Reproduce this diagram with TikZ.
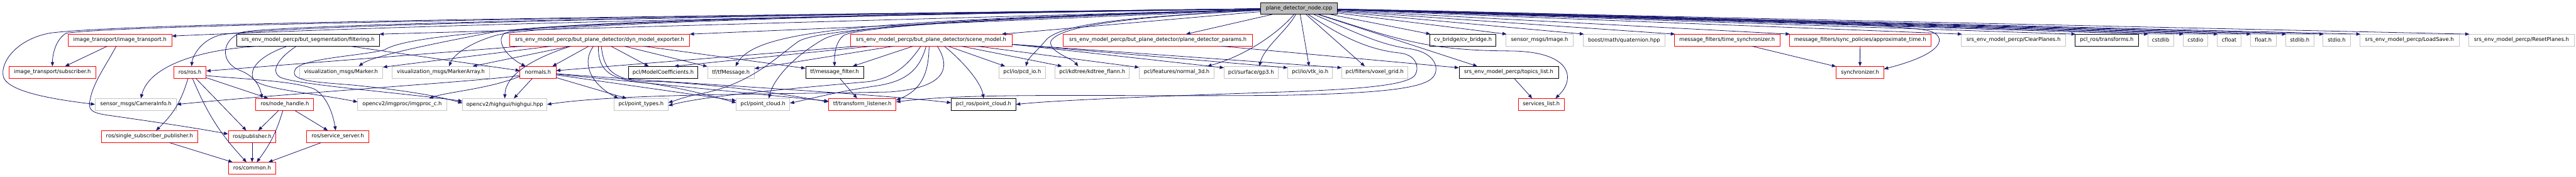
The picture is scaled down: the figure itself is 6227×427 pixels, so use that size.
\documentclass[tikz,border=0pt]{standalone}
\usepackage{fontspec}
\setmainfont{DejaVu Sans}
\usetikzlibrary{arrows.meta}
\definecolor{edgeblue}{HTML}{191970}
\definecolor{gborder}{HTML}{C4C4C4}
\definecolor{rootfill}{HTML}{BFBFBF}
\definecolor{rborder}{HTML}{FF0000}
\begin{document}
\begin{tikzpicture}[x=1pt,y=-1pt,
  box/.style={line width=1.2pt, minimum height=28pt, inner xsep=0pt, inner ysep=0pt, font=\fontsize{12.7}{14}\selectfont},
  rbox/.style={box, draw=rborder},
  gbox/.style={box, draw=gborder},
  kbox/.style={box, draw=black},
  rootbox/.style={box, draw=black, fill=rootfill},
  edge/.style={draw=edgeblue, line width=1.2pt, -{Triangle[length=10pt,width=8pt]}}]
\useasboundingbox (0,0) rectangle (6227,427);
% ---- root
\node[rootbox, minimum width=185pt] (root) at (3140.4,20) {plane\_detector\_node.cpp};
% ---- level 1
\node[rbox, minimum width=250.5pt] (it) at (289.9,97) {image\_transport/image\_transport.h};
\node[kbox, minimum width=345pt] (filt) at (744.4,97) {srs\_env\_model\_percp/but\_segmentation/filtering.h};
\node[rbox, minimum width=434.7pt] (dyn) at (1449.5,97) {srs\_env\_model\_percp/but\_plane\_detector/dyn\_model\_exporter.h};
\node[rbox, minimum width=390.6pt] (scene) at (2250.8,97) {srs\_env\_model\_percp/but\_plane\_detector/scene\_model.h};
\node[rbox, minimum width=457.9pt] (params) at (2799,97) {srs\_env\_model\_percp/but\_plane\_detector/plane\_detector\_params.h};
\node[kbox, minimum width=160.2pt] (cvb) at (3536.3,97) {cv\_bridge/cv\_bridge.h};
\node[gbox, minimum width=162.4pt] (img) at (3721.6,97) {sensor\_msgs/Image.h};
\node[gbox, minimum width=197pt] (quat) at (3925.8,97) {boost/math/quaternion.hpp};
\node[rbox, minimum width=254.9pt] (tsync) at (4174.8,97) {message\_filters/time\_synchronizer.h};
\node[rbox, minimum width=342.5pt] (approx) at (4496.4,97) {message\_filters/sync\_policies/approximate\_time.h};
\node[gbox, minimum width=251.9pt] (clear) at (4867.1,97) {srs\_env\_model\_percp/ClearPlanes.h};
\node[kbox, minimum width=153.7pt] (trans) at (5092.6,97) {pcl\_ros/transforms.h};
\node[gbox, minimum width=62.8pt] (cstdlib) at (5222.9,97) {cstdlib};
\node[gbox, minimum width=60.5pt] (cstdio) at (5307.1,97) {cstdio};
\node[gbox, minimum width=57.7pt] (cfloat) at (5388.5,97) {cfloat};
\node[gbox, minimum width=62.8pt] (floath) at (5470.9,97) {float.h};
\node[gbox, minimum width=68.5pt] (stdlibh) at (5559.1,97) {stdlib.h};
\node[gbox, minimum width=65.6pt] (stdioh) at (5648.4,97) {stdio.h};
\node[gbox, minimum width=240pt] (loadsave) at (5824.4,97) {srs\_env\_model\_percp/LoadSave.h};
\node[gbox, minimum width=255pt] (reset) at (6095.2,97) {srs\_env\_model\_percp/ResetPlanes.h};
% ---- level 2
\node[rbox, minimum width=209pt] (sub) at (126.7,174.5) {image\_transport/subscriber.h};
\node[rbox, minimum width=78.4pt] (ros) at (459.1,174.5) {ros/ros.h};
\node[gbox, minimum width=201.7pt] (marker) at (824.4,174.5) {visualization\_msgs/Marker.h};
\node[gbox, minimum width=234.8pt] (markerarr) at (1065.5,174.5) {visualization\_msgs/MarkerArray.h};
\node[rbox, minimum width=86.9pt] (normals) at (1300.4,174.5) {normals.h};
\node[kbox, minimum width=168.3pt] (modelcoef) at (1603,174.5) {pcl/ModelCoefficients.h};
\node[gbox, minimum width=113.2pt] (tfmsg) at (1766.9,174.5) {tf/tfMessage.h};
\node[kbox, minimum width=139.8pt] (mfilter) at (2017.4,174.5) {tf/message\_filter.h};
\node[gbox, minimum width=112.9pt] (pcd) at (2471,174.5) {pcl/io/pcd\_io.h};
\node[gbox, minimum width=179.8pt] (kdtree) at (2640.3,174.5) {pcl/kdtree/kdtree\_flann.h};
\node[gbox, minimum width=181.1pt] (n3d) at (2844.5,174.5) {pcl/features/normal\_3d.h};
\node[gbox, minimum width=130.2pt] (gp3) at (3024.2,174.5) {pcl/surface/gp3.h};
\node[gbox, minimum width=108pt] (vtk) at (3167,174.5) {pcl/io/vtk\_io.h};
\node[gbox, minimum width=158.6pt] (voxel) at (3322.9,174.5) {pcl/filters/voxel\_grid.h};
\node[kbox, minimum width=240.1pt] (topics) at (3647,174.5) {srs\_env\_model\_percp/topics\_list.h};
\node[rbox, minimum width=114.9pt] (sync) at (4496.2,174.5) {synchronizer.h};
% ---- level 3
\node[gbox, minimum width=196.8pt] (cam) at (328.5,252) {sensor\_msgs/CameraInfo.h};
\node[rbox, minimum width=139.8pt] (nh) at (688.4,252) {ros/node\_handle.h};
\node[gbox, minimum width=214.6pt] (imgproc) at (972.1,252) {opencv2/imgproc/imgproc\_c.h};
\node[gbox, minimum width=203.7pt] (highgui) at (1220.2,252) {opencv2/highgui/highgui.hpp};
\node[gbox, minimum width=130.6pt] (ptypes) at (1549.7,252) {pcl/point\_types.h};
\node[gbox, minimum width=129.1pt] (pcloud) at (1844.5,252) {pcl/point\_cloud.h};
\node[rbox, minimum width=162.8pt] (tflist) at (2084.4,252) {tf/transform\_listener.h};
\node[kbox, minimum width=156.1pt] (pclros) at (2377.6,252) {pcl\_ros/point\_cloud.h};
\node[rbox, minimum width=111.4pt] (services) at (3725.7,252) {services\_list.h};
% ---- level 4 / 5
\node[rbox, minimum width=231.6pt] (ssp) at (361.5,329.5) {ros/single\_subscriber\_publisher.h};
\node[rbox, minimum width=115pt] (pub) at (609.5,329.5) {ros/publisher.h};
\node[rbox, minimum width=149.5pt] (ss) at (816.4,329.5) {ros/service\_server.h};
\node[rbox, minimum width=115pt] (common) at (609.5,406) {ros/common.h};

% ================= edges from root
\draw[edge] (root) .. controls (1500,45) and (800,70) .. ([yshift=10pt]it.east);
\draw[edge] (root) -- (filt.north east);
\draw[edge] (root) -- (dyn.north east);
\draw[edge] (root) -- ([xshift=-25pt]scene.north east);
\draw[edge] (root) -- ([xshift=68pt]params.north);
\foreach \n in {cvb,img,quat,tsync,approx,clear,trans,cstdlib,cstdio,cfloat,floath,stdlibh,stdioh,loadsave,reset}
  \draw[edge] (root) -- ([xshift=2pt]\n.north west);
\draw[edge] (root) .. controls (1500,40) and (300,60) .. (160,80) .. controls (135,95) and (127,130) .. (sub.north);
\draw[edge] (root) .. controls (1500,40) and (300,55) .. (120,80) .. controls (40,95) and (0,150) .. (8,185) .. controls (20,225) and (150,242) .. (cam.west);
\draw[edge] (root) .. controls (1500,40) and (620,65) .. (530,85) .. controls (480,100) and (465,140) .. ([xshift=4pt]ros.north);
\draw[edge] (root) .. controls (1500,40) and (640,62) .. (585,78) .. controls (535,95) and (530,150) .. (580,170) .. controls (620,185) and (630,215) .. ([xshift=-55pt]nh.north);
\draw[edge] (root) .. controls (2000,35) and (1300,55) .. (1180,80) .. controls (1050,105) and (900,135) .. ([xshift=43pt]marker.north);
\draw[edge] (root) .. controls (2000,35) and (1300,60) .. (1200,85) .. controls (1130,105) and (1095,135) .. ([xshift=20pt]markerarr.north);
\draw[edge] (root) .. controls (2000,38) and (1300,52) .. (1220,80) .. controls (1195,100) and (1230,140) .. ([xshift=-30pt]normals.north);
\draw[edge] (root) .. controls (1500,40) and (1000,75) .. (930,120) .. controls (880,135) and (715,140) .. (712,172) .. controls (705,195) and (760,198) .. (850,205) .. controls (1000,220) and (1070,235) .. ([yshift=3pt]highgui.west);
\draw[edge] (root) .. controls (2100,50) and (1830,70) .. ([xshift=11pt]tfmsg.north);
\draw[edge] (root) .. controls (2500,40) and (2100,60) .. (2040,85) .. controls (2020,100) and (2017,130) .. (mfilter.north);
\draw[edge] (root) .. controls (2500,40) and (2060,55) .. (1990,95) .. controls (1920,135) and (1870,190) .. ([xshift=14pt]pcloud.north);
\draw[edge] (root) .. controls (2500,42) and (1990,62) .. (1930,100) .. controls (1880,135) and (1820,200) .. (1700,225) .. controls (1660,232) and (1640,240) .. ([yshift=4pt]ptypes.east);
\draw[edge] (root) .. controls (2750,40) and (2570,55) .. (2530,95) .. controls (2505,125) and (2485,140) .. ([xshift=9pt]pcd.north);
\draw[edge] (root) .. controls (2750,40) and (2560,60) .. (2540,100) .. controls (2535,125) and (2590,140) .. ([xshift=-34pt]kdtree.north);
\draw[edge] (root) .. controls (3090,80) and (3010,135) .. ([xshift=74pt]n3d.north);
\draw[edge] (root) .. controls (3110,75) and (3055,115) .. ([xshift=20pt]gp3.north);
\draw[edge] (root) -- (vtk);
\draw[edge] (root) -- ([xshift=-24pt]voxel.north);
\draw[edge] (root) -- ([xshift=-76pt]topics.north);
\draw[edge] (root) .. controls (3380,95) and (3450,122) .. (3650,123) .. controls (3800,124) and (3810,190) .. ([xshift=-22pt]services.north east);
\draw[edge] (root) .. controls (3230,80) and (3300,120) .. (3385,128) .. controls (3425,133) and (3432,165) .. (3420,182) .. controls (3400,205) and (3300,215) .. (3100,222) .. controls (2800,232) and (2550,242) .. (pclros.east);
\draw[edge] (root) .. controls (3260,70) and (3330,108) .. (3410,118) .. controls (3470,128) and (3480,165) .. (3465,185) .. controls (3445,212) and (3350,225) .. (3100,230) .. controls (2700,234) and (2350,222) .. ([yshift=6pt]tflist.east);
\draw[edge] (root) .. controls (3800,32) and (4600,55) .. (4665,75) .. controls (4705,88) and (4705,128) .. ([yshift=8pt]sync.east);

% ================= image_transport
\draw[edge] (it) -- (sub);
\draw[edge] ([xshift=-9pt]it.south) .. controls (255,160) and (225,200) .. (218,240) .. controls (212,265) and (220,272) .. (260,278) .. controls (380,295) and (480,310) .. ([yshift=6pt]pub.west);

% ================= filtering
\draw[edge] ([xshift=-121pt]filt.south) .. controls (480,120) and (360,160) .. ([xshift=12pt]cam.north);
\draw[edge] ([xshift=-50pt]filt.south) .. controls (640,130) and (600,160) .. (612,190) .. controls (625,215) and (760,225) .. ([yshift=6pt]imgproc.west);
\draw[edge] ([xshift=-28pt]filt.south) .. controls (680,135) and (652,168) .. (675,185) .. controls (700,203) and (950,222) .. ([yshift=8pt]highgui.west);
\draw[edge] (filt) -- ([yshift=4pt]normals.west);

% ================= ros
\draw[edge] (ros) to[bend left=15] (ssp);
\draw[edge] (ros) to[bend right=10] (common);
\draw[edge] (ros) -- (pub);
\draw[edge] (ros) -- ([xshift=-40pt]nh.north);
\draw[edge] ([yshift=-8pt]ros.east) .. controls (600,192) and (710,195) .. (760,215) .. controls (790,232) and (805,275) .. ([xshift=-5pt]ss.north);
\draw[edge] (ssp) -- (common);
\draw[edge] (pub) -- (common);
\draw[edge] (nh) -- (pub);
\draw[edge] (nh) to[bend left=10] (common);
\draw[edge] (nh) -- (ss);
\draw[edge] (ss) -- (common);

% ================= dyn_model_exporter
\draw[edge] (dyn) -- (ros);
\draw[edge] (dyn) -- (marker);
\draw[edge] (dyn) -- ([xshift=77pt]markerarr.north);
\draw[edge] ([xshift=-70pt]dyn.south) .. controls (1290,140) and (1222,180) .. (highgui.north);
\draw[edge] (dyn) -- ([xshift=35pt]normals.north);
\draw[edge] ([xshift=-15pt]dyn.south) .. controls (1400,160) and (1440,210) .. ([xshift=-55pt]ptypes.north);
\draw[edge] ([xshift=-3pt]dyn.south) .. controls (1445,175) and (1480,192) .. (1560,200) .. controls (1650,212) and (1720,232) .. ([yshift=4pt]pcloud.west);
\draw[edge] ([xshift=4pt]dyn.south) .. controls (1460,170) and (1480,200) .. (1600,197) .. controls (1800,210) and (1920,232) .. ([yshift=6pt]tflist.west);
\draw[edge] (dyn) -- ([xshift=-35pt]modelcoef.north);
\draw[edge] (dyn) -- (tfmsg);
\draw[edge] (dyn) -- (mfilter);

% ================= normals
\draw[edge] ([yshift=-8pt]normals.west) .. controls (1150,197) and (700,225) .. (cam.east);
\draw[edge] ([yshift=-10pt]normals.west) .. controls (1180,215) and (1080,222) .. ([xshift=65pt]imgproc.north);
\draw[edge] (normals) -- ([xshift=22pt]highgui.north);
\draw[edge] (normals) -- ([xshift=-35pt]ptypes.north);
\draw[edge] (normals) -- (tflist);
\draw[edge] (normals) -- (pcloud);
\draw[edge] (normals) .. controls (1700,205) and (2100,225) .. ([yshift=4pt]pclros.west);

% ================= scene_model
\draw[edge] (scene) -- (tfmsg);
\draw[edge] (scene) -- (mfilter);
\draw[edge] ([xshift=-25pt]scene.south) .. controls (2200,150) and (2165,188) .. (2100,197) .. controls (1900,215) and (1700,232) .. ([yshift=-3pt]ptypes.east);
\draw[edge] ([xshift=-12pt]scene.south) .. controls (2225,160) and (2200,195) .. (2120,207) .. controls (2030,220) and (1960,238) .. ([yshift=3pt]pcloud.east);
\draw[edge] ([xshift=-5pt]scene.south) .. controls (2245,170) and (2232,215) .. ([yshift=10pt]tflist.east);
\draw[edge] (scene) -- ([yshift=4pt]normals.east);
\draw[edge] (scene) -- ([xshift=27pt]modelcoef.north);
\draw[edge] ([xshift=15pt]scene.south) .. controls (2300,165) and (2285,212) .. (2150,222) .. controls (1850,228) and (1500,226) .. (highgui.east);
\draw[edge] ([xshift=32pt]scene.south) .. controls (2330,150) and (2372,200) .. (pclros.north);
\draw[edge] (scene) -- (pcd);
\draw[edge] (scene) -- (kdtree);
\draw[edge] (scene) -- (n3d);
\draw[edge] ([yshift=-10pt]scene.east) -- ([yshift=11pt]gp3.west);
\draw[edge] ([yshift=-10pt]scene.east) -- ([yshift=11pt]vtk.west);
\draw[edge] ([yshift=-10pt]scene.east) -- ([yshift=11pt]voxel.west);

% ================= others
\draw[edge] ([xshift=155pt]params.south) -- ([yshift=11pt]topics.west);
\draw[edge] (topics) -- ([xshift=-22pt]services.north);
\draw[edge] (mfilter) -- (tflist);
\draw[edge] (tsync) -- (sync);
\draw[edge] (approx) -- (sync);
\end{tikzpicture}
\end{document}
